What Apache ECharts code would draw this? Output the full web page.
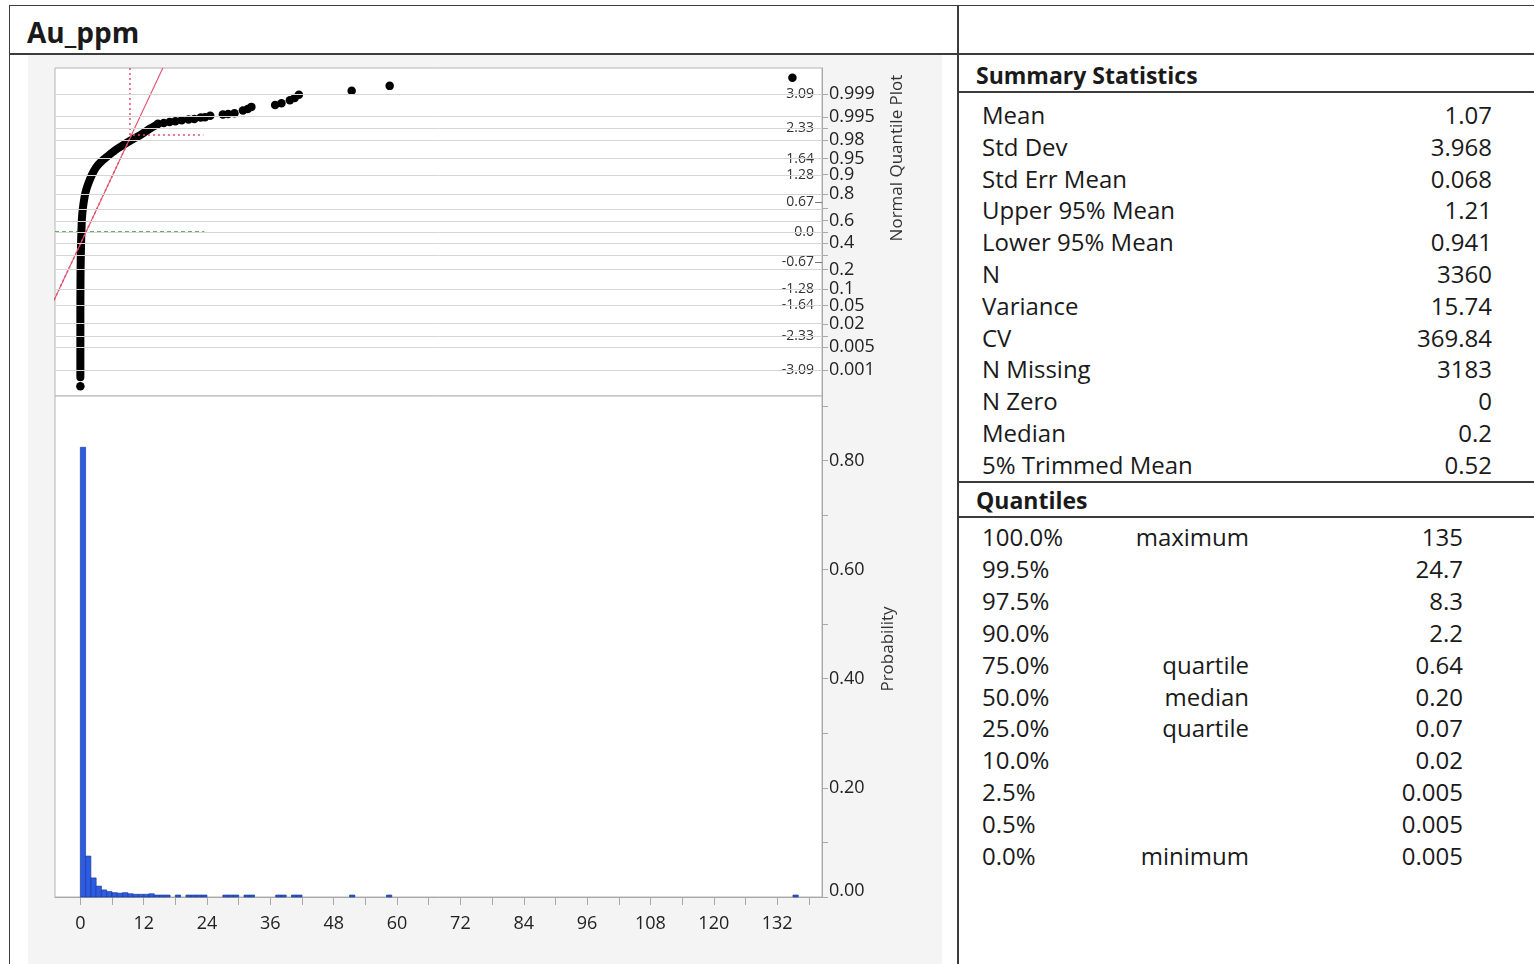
<!DOCTYPE html>
<html>
<head>
<meta charset="utf-8">
<script src="https://cdn.jsdelivr.net/npm/echarts@6/dist/echarts.min.js"></script>
<style>
  html,body{margin:0;padding:0;background:#fff;}
  body{width:1534px;height:964px;position:relative;overflow:hidden;font-family:"Open Sans",sans-serif;color:#1a1a1a;}
  .ln{position:absolute;background:#3c3c3c;}
  .t{position:absolute;white-space:nowrap;height:32px;line-height:32px;font-size:24px;}
  .hdr{position:absolute;white-space:nowrap;font-weight:700;}
  #chart{position:absolute;left:28px;top:55px;width:914px;height:909px;background:#f4f4f4;}
</style>
</head>
<body>
<div class="ln" style="left:9px;top:5px;width:1525px;height:1px;"></div>
<div class="ln" style="left:9px;top:5px;width:1px;height:959px;"></div>
<div class="ln" style="left:9px;top:53px;width:1525px;height:2px;"></div>
<div class="ln" style="left:957px;top:5px;width:2px;height:959px;"></div>
<div class="ln" style="left:958px;top:91px;width:576px;height:2px;"></div>
<div class="ln" style="left:958px;top:481px;width:576px;height:2px;"></div>
<div class="ln" style="left:958px;top:516px;width:576px;height:2px;"></div>
<div class="hdr" style="left:27px;top:12px;font-size:28px;line-height:40px;">Au_ppm</div>
<div class="hdr" style="left:976px;top:58px;font-size:23px;line-height:34px;">Summary Statistics</div>
<div class="hdr" style="left:976px;top:483px;font-size:23px;line-height:34px;">Quantiles</div>
<div id="chart"></div>
<div id="tables"></div>
<script>
// ---------- table data ----------
const statLabels = ['Mean','Std Dev','Std Err Mean','Upper 95% Mean','Lower 95% Mean','N','Variance','CV','N Missing','N Zero','Median','5% Trimmed Mean'];
const statValues = ['1.07','3.968','0.068','1.21','0.941','3360','15.74','369.84','3183','0','0.2','0.52'];
const quantPct = ['100.0%','99.5%','97.5%','90.0%','75.0%','50.0%','25.0%','10.0%','2.5%','0.5%','0.0%'];
const quantNames = ['maximum','','','','quartile','median','quartile','','','','minimum'];
const quantValues = ['135','24.7','8.3','2.2','0.64','0.20','0.07','0.02','0.005','0.005','0.005'];

// ---------- chart data ----------
// dense part of the normal quantile plot: [Au_ppm, normal quantile]
const qqDense = [[0.005,-3.25],[0.005,-2.6],[0.005,-2.0],[0.01,-1.6],[0.02,-1.28],[0.04,-0.95],[0.07,-0.67],[0.12,-0.35],[0.2,0],[0.3,0.3],[0.45,0.5],[0.64,0.67],[0.95,0.87],[1.4,1.05],[2.2,1.28],[3.0,1.45],[4.0,1.58],[5.0,1.68],[6.6,1.83],[8.3,1.96],[10.0,2.08],[11.5,2.18],[13.0,2.3],[14.7,2.41]];
// sparse points of the quantile plot
const qqPoints = [[0.005,-3.45],[14.7,2.42],[15.8,2.44],[16.9,2.46],[18.0,2.48],[19.2,2.5],[20.5,2.52],[21.6,2.53],[22.8,2.56],[23.6,2.57],[24.6,2.6],[27.0,2.63],[28.0,2.64],[29.2,2.66],[30.8,2.72],[31.7,2.75],[32.4,2.8],[36.9,2.84],[38.1,2.88],[39.7,2.95],[40.6,3.0],[41.4,3.07],[51.4,3.16],[58.6,3.27],[134.9,3.45]];
// fitted normal line (mean 1.07, sd 3.968) end points
const fitLine = [[-13.49,-3.67],[15.63,3.67]];
const refDotted = [[9.4,3.67],[9.4,2.17],[23.3,2.17]];
const refDottedDiag = [[9.68,2.17],[-13.49,-3.67]];
const medianLine = [[-4.8,0],[23.5,0]];
// histogram (bin width 1)
const histStart = [0,1,2,3,4,5,6,7,8,9,10,11,12,13,14,15,16,18,20,21,22,23,27,28,29,31,32,37,38,40,41,51,58,135];
const histProb  = [0.824,0.075,0.035,0.020,0.013,0.010,0.008,0.007,0.008,0.006,0.005,0.005,0.005,0.006,0.003,0.002,0.002,0.001,0.001,0.001,0.0006,0.0006,0.0006,0.0006,0.0006,0.0006,0.0006,0.0006,0.0006,0.0006,0.0006,0.0003,0.0003,0.0003];
const binWidth = 1;
// axis ticks
const xTickVals = [0,6,12,18,24,30,36,42,48,54,60,66,72,78,84,90,96,102,108,114,120,126,132,138];
const xLabelVals = [0,12,24,36,48,60,72,84,96,108,120,132];
const qGridZ = [-3.09,-2.576,-2.326,-2.054,-1.645,-1.282,-0.842,-0.524,-0.253,0,0.253,0.524,0.842,1.282,1.645,2.054,2.326,2.576,3.09];
const probLabelZ = [-3.09,-2.576,-2.054,-1.645,-1.282,-0.842,-0.253,0.253,0.842,1.282,1.645,2.054,2.576,3.09];
const probLabels = ['0.001','0.005','0.02','0.05','0.1','0.2','0.4','0.6','0.8','0.9','0.95','0.98','0.995','0.999'];
const zLabelVals = [-3.09,-2.33,-1.64,-1.28,-0.67,0,0.67,1.28,1.64,2.33,3.09];
const zLabels = ['-3.09','-2.33','-1.64','-1.28','-0.67','0.0','0.67','1.28','1.64','2.33','3.09'];
const hTickVals = [0,0.1,0.2,0.3,0.4,0.5,0.6,0.7,0.8,0.9];
const hLabelVals = [0,0.2,0.4,0.6,0.8];

// ---------- tables ----------
(function(){
  const host = document.getElementById('tables');
  function add(text, css){ const d=document.createElement('div'); d.className='t'; d.textContent=text; d.style.cssText+=css; host.appendChild(d); }
  statLabels.forEach((s,i)=>{
    const top = 116 + i*31.8 - 17;
    add(s, `left:982px;top:${top}px;`);
    add(statValues[i], `right:${1534-1492}px;top:${top}px;text-align:right;`);
  });
  quantPct.forEach((s,i)=>{
    const top = 538 + i*31.9 - 17;
    add(s, `left:982px;top:${top}px;`);
    if (quantNames[i]) add(quantNames[i], `right:${1534-1249}px;top:${top}px;text-align:right;`);
    add(quantValues[i], `right:${1534-1463}px;top:${top}px;text-align:right;`);
  });
})();

// ---------- chart ----------
const xMin = -4.8, xMax = 140.5, zMin = -3.67, zMax = 3.67, hMax = 0.918;
const key = v => Number(v).toFixed(3);
const probMap = {}; probLabelZ.forEach((z,i)=>probMap[key(z)] = probLabels[i]);
const zMap = {}; zLabelVals.forEach((z,i)=>zMap[key(z)] = zLabels[i]);
const axisGray = '#a8a8a8';
const txt = '#222';
const FONT = 'Open Sans';

const chart = echarts.init(document.getElementById('chart'), null, {renderer:'canvas'});
chart.setOption({
  animation: false,
  backgroundColor: '#f4f4f4',
  grid: [
    {left:27, top:13, width:767, height:328, show:true, backgroundColor:'#fff', borderColor:'#b4b4b4', borderWidth:1},
    {left:27, top:341, width:767, height:501, show:true, backgroundColor:'#fff', borderColor:'#b4b4b4', borderWidth:1}
  ],
  xAxis: [
    {type:'value', gridIndex:0, min:xMin, max:xMax, axisLine:{show:false, onZero:false}, axisTick:{show:false}, axisLabel:{show:false}, splitLine:{show:false}},
    {type:'value', gridIndex:1, min:xMin, max:xMax,
      axisLine:{show:true, onZero:false, lineStyle:{color:axisGray}},
      axisTick:{show:true, length:8, lineStyle:{color:axisGray}, customValues:xTickVals},
      axisLabel:{show:true, margin:18, fontSize:18, fontFamily:FONT, color:txt, customValues:xLabelVals},
      splitLine:{show:false}}
  ],
  yAxis: [
    {type:'value', gridIndex:0, position:'right', min:zMin, max:zMax,
      axisLine:{show:true, onZero:false, lineStyle:{color:axisGray}},
      axisTick:{show:true, length:6, lineStyle:{color:axisGray}, customValues:qGridZ},
      axisLabel:{show:true, margin:7, fontSize:18, fontFamily:FONT, color:txt, customValues:probLabelZ,
        formatter: v => probMap[key(v)] || ''},
      splitLine:{show:false}},
    {type:'value', gridIndex:0, position:'right', min:zMin, max:zMax,
      axisLine:{show:false, onZero:false},
      axisTick:{show:true, inside:true, length:7, lineStyle:{color:'#777'}, customValues:zLabelVals},
      axisLabel:{show:true, inside:true, margin:8, fontSize:14, fontFamily:FONT, color:'#333', customValues:zLabelVals,
        formatter: v => zMap[key(v)] || ''},
      splitLine:{show:false}},
    {type:'value', gridIndex:1, position:'right', min:0, max:hMax,
      axisLine:{show:true, onZero:false, lineStyle:{color:axisGray}},
      axisTick:{show:true, length:6, lineStyle:{color:axisGray}, customValues:hTickVals},
      axisLabel:{show:true, margin:7, fontSize:18, fontFamily:FONT, color:txt, customValues:hLabelVals,
        formatter: v => (Number(v) === 0 ? '{up|0.00}' : Number(v).toFixed(2)),
        rich:{up:{fontSize:18, fontFamily:FONT, color:txt, padding:[0,0,13,0]}}},
      splitLine:{show:false}}
  ],
  graphic: [
    {type:'text', x:869, y:103, rotation:Math.PI/2, style:{text:'Normal Quantile Plot', fontSize:17, fontFamily:FONT, fill:'#333', align:'center', verticalAlign:'middle'}},
    {type:'text', x:860, y:594, rotation:Math.PI/2, style:{text:'Probability', fontSize:17, fontFamily:FONT, fill:'#333', align:'center', verticalAlign:'middle'}}
  ],
  series: [
    {type:'line', xAxisIndex:0, yAxisIndex:0, data:medianLine, symbol:'none', z:2, silent:true,
      lineStyle:{color:'#2f9a2f', width:1.6, type:[4,3]},
      markLine:{silent:true, symbol:'none', label:{show:false}, animation:false,
        lineStyle:{color:'#d6d6d6', width:1, type:'solid'},
        data: qGridZ.map(z=>({yAxis:z}))}},
    {type:'line', xAxisIndex:0, yAxisIndex:0, data:qqDense, symbol:'none', z:3, silent:true, smooth:0.3,
      lineStyle:{color:'#000', width:8, cap:'round', join:'round'}},
    {type:'scatter', xAxisIndex:0, yAxisIndex:0, data:qqPoints, symbol:'circle', symbolSize:8.5, z:3, silent:true,
      itemStyle:{color:'#000', opacity:1}},
    {type:'line', xAxisIndex:0, yAxisIndex:0, data:fitLine, symbol:'none', z:4, silent:true,
      lineStyle:{color:'#e0506a', width:1.1}},
    {type:'line', xAxisIndex:0, yAxisIndex:0, data:refDotted, symbol:'none', z:4, silent:true,
      lineStyle:{color:'#e0506a', width:1.5, type:[2,3]}},
    {type:'line', xAxisIndex:0, yAxisIndex:0, data:refDottedDiag, symbol:'none', z:4, silent:true,
      lineStyle:{color:'#e0506a', width:1.5, type:[2,3]}},
    {type:'custom', xAxisIndex:1, yAxisIndex:2, silent:true, z:3,
      data: histStart.map((s,i)=>[s, s+binWidth, histProb[i]]),
      encode:{x:[0,1], y:2},
      renderItem: function(params, api){
        const p0 = api.coord([api.value(0), 0]);
        const p1 = api.coord([api.value(1), api.value(2)]);
        let h = p0[1]-p1[1]; if (h < 2) h = 2;
        return {type:'rect', shape:{x:p0[0], y:p0[1]-h, width:p1[0]-p0[0], height:h},
          style:{fill:'#2b5ce3', stroke:'#1a3388', lineWidth:0.6}};
      }}
  ]
});
</script>
</body>
</html>
